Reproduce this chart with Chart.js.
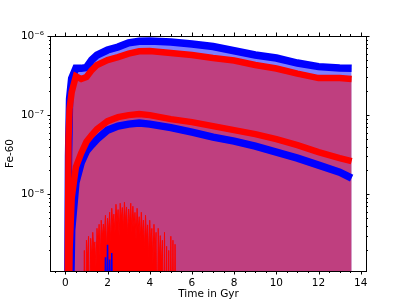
<!DOCTYPE html>
<html>
<head>
<meta charset="utf-8">
<script src="https://cdn.jsdelivr.net/npm/chart.js@4"></script>
<style>
  body { margin: 0; background: #fff; }
</style>
</head>
<body>
<canvas id="fe60Chart" width="407" height="305"></canvas>
<script>
// Time axis (Gyr) shared by the four envelope curves
const curveTime = [0, 0.1, 0.15, 0.2, 0.3, 0.5, 0.75, 1, 1.25, 1.5, 2, 2.5, 3, 3.5, 4, 5, 6, 7, 8, 9, 10, 11, 12, 13, 13.57];

const blueUpper = [1e-10, 1e-10, 3e-8, 1.6e-7, 2.9e-7, 3.9e-7, 3.9e-7, 4.0e-7, 4.97e-7, 5.75e-7, 6.65e-7, 7.26e-7, 8.2e-7, 8.6e-7, 8.64e-7, 8.39e-7, 7.92e-7, 7.36e-7, 6.5e-7, 5.75e-7, 5.27e-7, 4.55e-7, 4.1e-7, 3.95e-7, 3.9e-7];
const redUpper = [1e-10, 1e-10, 5e-8, 1.2e-7, 1.95e-7, 3.1e-7, 2.86e-7, 3.03e-7, 3.71e-7, 4.3e-7, 4.97e-7, 5.42e-7, 6.0e-7, 6.4e-7, 6.46e-7, 6.09e-7, 5.75e-7, 5.27e-7, 4.9e-7, 4.3e-7, 3.88e-7, 3.35e-7, 2.94e-7, 2.94e-7, 2.86e-7];
const redLower = [1e-10, 1e-10, 1e-10, 2e-9, 9e-9, 2.2e-8, 3.3e-8, 4.6e-8, 5.6e-8, 6.65e-8, 8.4e-8, 9.44e-8, 1.0e-7, 1.03e-7, 1.0e-7, 8.9e-8, 8.15e-8, 7.26e-8, 6.46e-8, 5.74e-8, 4.97e-8, 4.17e-8, 3.4e-8, 2.86e-8, 2.62e-8];
const blueLower = [1e-10, 1e-10, 1e-10, 1e-10, 3.5e-9, 1.4e-8, 2.5e-8, 3.5e-8, 4.2e-8, 4.97e-8, 6.46e-8, 7.26e-8, 7.69e-8, 7.92e-8, 7.69e-8, 6.95e-8, 6.09e-8, 5.27e-8, 4.69e-8, 4.05e-8, 3.4e-8, 2.86e-8, 2.33e-8, 1.9e-8, 1.6e-8];

// Spiky low-level red signal between ~1 and 5 Gyr
const redSpikeTime = [0.85, 0.90, 0.95, 1.00, 1.05, 1.10, 1.15, 1.20, 1.25, 1.30, 1.35, 1.40, 1.45, 1.50, 1.55, 1.60, 1.65, 1.70, 1.75, 1.80,
  1.85, 1.90, 1.95, 2.00, 2.05, 2.10, 2.15, 2.20, 2.25, 2.30, 2.35, 2.40, 2.45, 2.50, 2.55, 2.60, 2.65, 2.70, 2.75, 2.80,
  2.85, 2.90, 2.95, 3.00, 3.05, 3.10, 3.15, 3.20, 3.25, 3.30, 3.35, 3.40, 3.45, 3.50, 3.55, 3.60, 3.65, 3.70, 3.75, 3.80,
  3.85, 3.90, 3.95, 4.00, 4.05, 4.10, 4.15, 4.20, 4.25, 4.30, 4.35, 4.40, 4.45, 4.50, 4.55, 4.60, 4.65, 4.70, 4.75, 4.80,
  4.85, 4.90, 4.95, 5.00, 5.05, 5.10, 5.15, 5.20, 5.25];
const redSpikes = [1e-10, 1.95e-9, 1e-10, 2.62e-9, 1.5e-9, 2.94e-9, 1e-10, 2.77e-9, 1.6e-9, 3.3e-9, 2.0e-9, 2.5e-9, 1.2e-9, 3.71e-9, 2.2e-9, 4.17e-9, 1.4e-9, 4.69e-9, 2.8e-9, 4.2e-9,
  3.0e-9, 5.42e-9, 2.0e-9, 4.97e-9, 3.4e-9, 5.92e-9, 2.5e-9, 6.65e-9, 4.0e-9, 5.6e-9, 3.2e-9, 7.47e-9, 4.4e-9, 6.4e-9, 2.9e-9, 7.69e-9, 4.8e-9, 6.8e-9, 3.6e-9, 7.92e-9,
  4.5e-9, 6.9e-9, 3.1e-9, 6.5e-9, 4.2e-9, 7.69e-9, 3.3e-9, 7.05e-9, 3.8e-9, 5.9e-9, 2.7e-9, 6.65e-9, 3.5e-9, 5.2e-9, 2.6e-9, 5.92e-9, 3.0e-9, 4.7e-9, 2.1e-9, 5.42e-9,
  2.6e-9, 4.1e-9, 1.6e-9, 4.69e-9, 2.2e-9, 3.7e-9, 1.3e-9, 4.17e-9, 1.8e-9, 3.3e-9, 1e-10, 3.71e-9, 1.5e-9, 3.0e-9, 1.3e-9, 2.62e-9, 1e-10, 3.3e-9, 1e-10, 2.2e-9,
  1e-10, 1.95e-9, 1e-10, 2.94e-9, 1e-10, 2.62e-9, 1e-10, 2.33e-9, 1e-10];

// A few blue spikes near 2 Gyr
const blueSpikeTime = [1.85, 1.90, 1.95, 2.00, 2.05, 2.10, 2.15, 2.20, 2.25];
const blueSpikes = [1e-10, 1.6e-9, 1e-10, 2.3e-9, 1e-10, 1.5e-9, 1e-10, 1.8e-9, 1e-10];

const xTicks = [0, 2, 4, 6, 8, 10, 12, 14];
const yTicks = [1e-8, 1e-7, 1e-6];
const yTickLabels = ['10⁻⁸', '10⁻⁷', '10⁻⁶'];

const pts = (xs, ys) => xs.map((t, i) => ({ x: t, y: ys[i] }));

const FONT = { family: 'DejaVu Sans', size: 10.5 };

// matplotlib-like frame: spines plus outward ticks on all four sides
const frameTicks = {
  id: 'frameTicks',
  afterDraw(chart) {
    const { ctx, chartArea: a, scales: { x, y } } = chart;
    ctx.save();
    ctx.strokeStyle = '#000';
    ctx.lineWidth = 1;
    ctx.strokeRect(a.left - 0.5, a.top + 0.5, a.right - a.left + 1, a.bottom - a.top);

    const xMinor = [];
    for (let v = -0.5; v <= 14.25; v += 0.5) if (v % 2 !== 0) xMinor.push(v);
    const yMinor = [];
    for (let e = -10; e <= -7; e++) for (let k = 2; k <= 9; k++) {
      const v = k * Math.pow(10, e);
      if (v >= y.min && v <= y.max) yMinor.push(v);
    }
    const mark = (list, len) => {
      list.forEach(v => {
        const px = Math.round(x.getPixelForValue(v)) + 0.5;
        ctx.beginPath();
        ctx.moveTo(px, a.bottom); ctx.lineTo(px, a.bottom + len);
        ctx.moveTo(px, a.top); ctx.lineTo(px, a.top - len);
        ctx.stroke();
      });
    };
    const markY = (list, len) => {
      list.forEach(v => {
        const py = Math.round(y.getPixelForValue(v)) + 0.5;
        ctx.beginPath();
        ctx.moveTo(a.left, py); ctx.lineTo(a.left - len, py);
        ctx.moveTo(a.right, py); ctx.lineTo(a.right + len, py);
        ctx.stroke();
      });
    };
    mark(xTicks, 3.5);
    mark(xMinor, 2);
    markY(yTicks, 3.5);
    markY(yMinor, 2);
    ctx.restore();
  }
};

const line = (label, data, color, width, order) => ({
  label, data, order,
  borderColor: color,
  borderWidth: width,
  pointRadius: 0,
  fill: false,
  tension: 0,
  clip: 0,
});

const ctx = document.getElementById('fe60Chart').getContext('2d');

const chart = new Chart(ctx, {
  type: 'line',
  data: {
    datasets: [
      {
        label: 'blue range', data: pts(curveTime, blueUpper), order: 8,
        borderColor: 'transparent', backgroundColor: 'rgba(0, 0, 255, 0.5)',
        pointRadius: 0, fill: 'start', tension: 0, clip: 0,
      },
      {
        label: 'red range', data: pts(curveTime, redUpper), order: 7,
        borderColor: 'transparent', backgroundColor: 'rgba(255, 0, 0, 0.5)',
        pointRadius: 0, fill: 'start', tension: 0, clip: 0,
      },
      line('blue max', pts(curveTime, blueUpper), '#0000ff', 7.5, 6),
      line('blue min', pts(curveTime, blueLower), '#0000ff', 7.5, 5),
      line('red max', pts(curveTime, redUpper), '#ff0000', 6.5, 4),
      line('red min', pts(curveTime, redLower), '#ff0000', 6.5, 3),
      {
        label: 'red low', data: pts(redSpikeTime, redSpikes), order: 2,
        borderColor: '#ff0000', backgroundColor: '#ff0000', borderWidth: 1,
        pointRadius: 0, fill: 'start', tension: 0, clip: 0,
      },
      line('blue low', pts(blueSpikeTime, blueSpikes), '#0000ff', 1.5, 1),
    ],
  },
  options: {
    responsive: false,
    animation: false,
    events: [],
    layout: { padding: { top: 36, right: 41, left: 0, bottom: 0 } },
    plugins: { legend: { display: false }, tooltip: { enabled: false } },
    scales: {
      x: {
        type: 'linear',
        min: -0.68,
        max: 14.25,
        afterBuildTicks: s => { s.ticks = xTicks.map(v => ({ value: v })); },
        afterFit: s => { s.height = 34; },
        grid: { display: false, drawTicks: false },
        border: { display: false },
        ticks: { color: '#000', font: FONT, padding: 6, maxRotation: 0 },
        title: { display: true, text: 'Time in Gyr', color: '#000', font: FONT },
      },
      y: {
        type: 'logarithmic',
        min: 1.07e-9,
        max: 1e-6,
        afterBuildTicks: s => { s.ticks = yTicks.map(v => ({ value: v })); },
        afterFit: s => { s.width = 51; },
        grid: { display: false, drawTicks: false },
        border: { display: false },
        ticks: { color: '#000', font: FONT, padding: 7, callback: (v, i) => yTickLabels[i] },
        title: { display: true, text: 'Fe-60', color: '#000', font: FONT },
      },
    },
  },
  plugins: [frameTicks],
});
</script>
</body>
</html>
